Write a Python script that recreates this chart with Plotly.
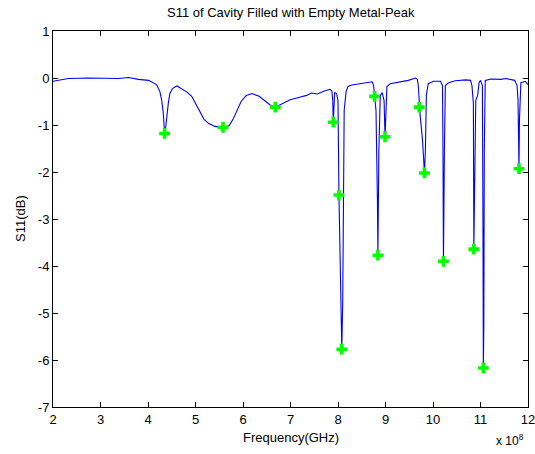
import plotly.graph_objects as go

# Frequency in units of 1e8 Hz, S11 in dB
freq = [2.00, 2.32, 2.74, 3.17, 3.38, 3.59, 3.80, 4.01, 4.12, 4.18, 4.25, 4.29, 4.32, 4.34, 4.35,
        4.37, 4.39, 4.43, 4.46, 4.52, 4.61, 4.71, 4.82, 4.92, 5.01, 5.09, 5.18, 5.28, 5.41, 5.58,
        5.71, 5.79, 5.88, 5.96, 6.07, 6.19, 6.34, 6.47, 6.58, 6.68, 6.81, 6.98, 7.19, 7.34, 7.44,
        7.57, 7.70, 7.83, 7.87, 7.89, 7.90, 7.91, 7.93, 7.97, 8.00, 8.02, 8.05, 8.08, 8.10, 8.11,
        8.13, 8.17, 8.21, 8.29, 8.46, 8.61, 8.72, 8.75, 8.77, 8.80, 8.83, 8.84, 8.86, 8.89, 8.93,
        8.97, 8.99, 9.01, 9.03, 9.10, 9.31, 9.48, 9.63, 9.67, 9.69, 9.71, 9.73, 9.78, 9.82, 9.84,
        9.86, 9.90, 10.01, 10.16, 10.20, 10.21, 10.22, 10.24, 10.26, 10.33, 10.47, 10.69, 10.79,
        10.82, 10.85, 10.86, 10.88, 10.90, 10.94, 10.97, 11.00, 11.04, 11.05, 11.06, 11.07, 11.08,
        11.10, 11.22, 11.43, 11.53, 11.64, 11.72, 11.77, 11.79, 11.81, 11.82, 11.85, 11.94, 12.00]
s11 = [-0.07, -0.01, 0.00, 0.00, -0.01, 0.01, -0.03, -0.05, -0.10, -0.14, -0.29, -0.48, -0.73, -1.01, -1.18,
       -1.07, -0.86, -0.52, -0.33, -0.22, -0.17, -0.24, -0.30, -0.39, -0.56, -0.73, -0.88, -0.97, -1.03, -1.06,
       -1.01, -0.88, -0.69, -0.50, -0.37, -0.33, -0.39, -0.50, -0.58, -0.62, -0.56, -0.47, -0.41, -0.37, -0.32,
       -0.34, -0.28, -0.24, -0.27, -0.48, -0.94, -0.65, -0.31, -0.33, -0.48, -2.49, -4.30, -5.77, -4.72, -2.60,
       -0.69, -0.29, -0.18, -0.15, -0.12, -0.10, -0.08, -0.16, -0.39, -0.69, -2.60, -3.77, -1.54, -0.37, -0.31,
       -0.48, -1.25, -0.69, -0.18, -0.12, -0.08, -0.05, 0.00, -0.03, -0.16, -0.62, -0.80, -1.33, -2.02, -1.54,
       -0.37, -0.12, -0.07, -0.07, -0.16, -1.54, -3.90, -1.54, -0.16, -0.10, -0.06, -0.04, -0.05,
       -0.16, -0.54, -3.64, -1.54, -0.48, -0.37, -0.10, -0.05, -0.16, -2.60, -6.17, -5.25, -1.54,
       -0.05, -0.02, -0.03, -0.01, -0.03, -0.05, -0.16, -0.48, -1.93, -0.90, -0.10, -0.07, -0.14]

peak_freq = [4.35, 5.58, 6.68, 7.90, 8.02, 8.08, 8.77, 8.84, 8.99, 9.71, 9.82, 10.22, 10.86, 11.06, 11.81]
peak_s11 = [-1.18, -1.05, -0.62, -0.94, -2.49, -5.77, -0.39, -3.77, -1.25, -0.62, -2.02, -3.90, -3.64, -6.17, -1.93]

x_ticks = [2, 3, 4, 5, 6, 7, 8, 9, 10, 11, 12]
y_ticks = [1, 0, -1, -2, -3, -4, -5, -6, -7]

FONT = "Liberation Sans, Arial, sans-serif"
FS = 13

fig = go.Figure()
fig.add_trace(go.Scatter(x=freq, y=s11, mode="lines",
                         line=dict(color="#0000ff", width=1.1), showlegend=False, hoverinfo="skip"))
fig.add_trace(go.Scatter(x=peak_freq, y=peak_s11, mode="markers",
                         marker=dict(symbol="cross", color="#00ff00", size=9, line=dict(width=0)),
                         showlegend=False))

axis_common = dict(showline=True, linecolor="black", linewidth=1, mirror="ticks",
                   ticks="inside", ticklen=5, tickcolor="black", showgrid=False, zeroline=False,
                   automargin=False, ticklabeloverflow="allow",
                   tickfont=dict(family=FONT, size=FS, color="black"))

fig.update_xaxes(range=[2, 12], tickvals=x_ticks, ticktext=[str(v) for v in x_ticks], **axis_common)
fig.update_yaxes(range=[-7, 1], tickvals=y_ticks, ticktext=[str(v) for v in y_ticks], **axis_common)

PLOT_H = 454 - 31 - 47
fig.update_layout(
    width=535, height=454,
    margin=dict(l=53, r=7, t=31, b=47, autoexpand=False),
    paper_bgcolor="white", plot_bgcolor="white",
    font=dict(family=FONT, size=FS, color="black"),
    annotations=[
        dict(text="S11 of Cavity Filled with Empty Metal-Peak", xref="paper", yref="paper",
             x=0.5, y=1.0 + 19 / PLOT_H, xanchor="center", yanchor="middle", showarrow=False,
             font=dict(family=FONT, size=FS, color="black")),
        dict(text="Frequency(GHz)", xref="paper", yref="paper",
             x=0.5, y=-30 / PLOT_H, xanchor="center", yanchor="middle", showarrow=False,
             font=dict(family=FONT, size=FS, color="black")),
        dict(text="S11(dB)", xref="paper", yref="paper", textangle=-90,
             x=-33 / 475, y=0.5, xanchor="center", yanchor="middle", showarrow=False,
             font=dict(family=FONT, size=FS, color="black")),
        dict(text="x 10<sup>8</sup>", xref="paper", yref="paper",
             x=0.962, y=-33 / PLOT_H, xanchor="center", yanchor="middle", showarrow=False,
             font=dict(family=FONT, size=FS - 1, color="black")),
    ],
)

fig.write_html("out.html")
